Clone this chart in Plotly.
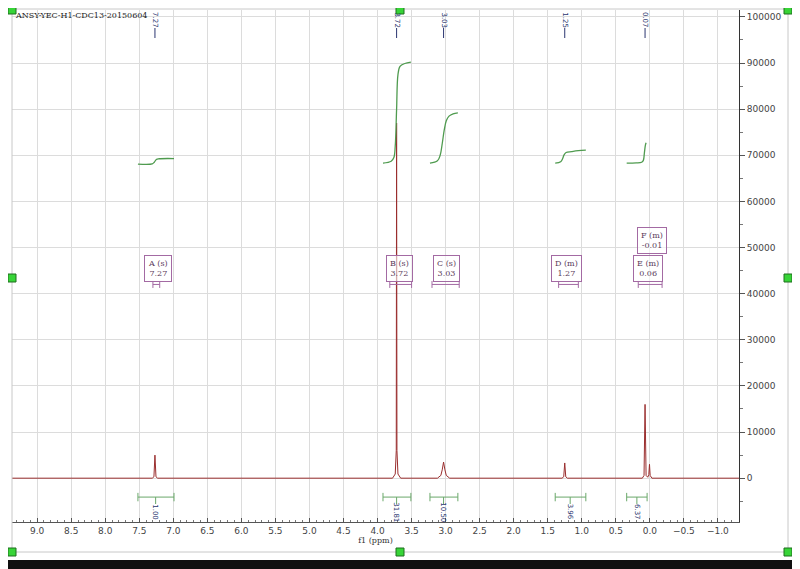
import plotly.graph_objects as go

# spectrum trace (ppm, intensity)
spec_ppm = [9.37, 7.31, 7.285, 7.27, 7.255, 7.23, 3.78, 3.74, 3.725, 3.72, 3.715, 3.70, 3.66,
            3.12, 3.07, 3.05, 3.03, 3.01, 2.99, 2.94, 1.29, 1.265, 1.25, 1.235, 1.21,
            0.11, 0.085, 0.07, 0.055, 0.03, 0.015, 0.005, -0.005, -0.03, -1.31]
spec_int = [0, 0, 300, 5000, 300, 0, 0, 900, 6000, 77000, 6000, 900, 0,
            0, 600, 1800, 3500, 1800, 600, 0, 0, 300, 3300, 300, 0,
            0, 600, 16000, 600, 200, 800, 3000, 600, 0, 0]

# integral curves
int_a_ppm = [7.52, 7.31, 7.28, 7.25, 7.21, 6.99]
int_a_val = [68100, 68150, 68500, 69100, 69250, 69300]
int_b_ppm = [3.92, 3.80, 3.76, 3.74, 3.72, 3.70, 3.67, 3.60, 3.51]
int_b_val = [68300, 68700, 69500, 72000, 80000, 87500, 89300, 89900, 90200]
int_c_ppm = [3.23, 3.12, 3.08, 3.05, 3.02, 2.99, 2.95, 2.89, 2.82]
int_c_val = [68300, 68800, 70000, 72500, 75500, 77500, 78500, 79000, 79200]
int_d_ppm = [1.39, 1.31, 1.28, 1.26, 1.23, 1.15, 1.05, 0.94]
int_d_val = [68300, 68600, 69300, 70100, 70600, 70800, 71000, 71100]
int_e_ppm = [0.34, 0.20, 0.12, 0.095, 0.08, 0.065, 0.055]
int_e_val = [68300, 68350, 68500, 68900, 70500, 72200, 72700]

# integral brackets and values
int_from = [7.52, 3.92, 3.23, 1.39, 0.34]
int_to = [6.99, 3.51, 2.82, 0.94, 0.04]
int_mid = [7.26, 3.72, 3.03, 1.17, 0.19]
int_labels = ["1.00", "31.81", "10.50", "3.96", "6.37"]

# peak picking labels
peak_ppm = [7.27, 3.72, 3.03, 1.25, 0.07]
peak_labels = ["7.27", "3.72", "3.03", "1.25", "0.07"]

# multiplet boxes
mult_names = ["A (s)", "B (s)", "C (s)", "D (m)", "E (m)", "F (m)"]
mult_shift = ["7.27", "3.72", "3.03", "1.27", "0.06", "-0.01"]
mult_box_ppm = [7.22, 3.68, 2.99, 1.23, 0.03, -0.03]
mult_box_y = [45500, 45500, 45500, 45500, 45500, 51600]
mult_from = [7.30, 3.82, 3.20, 1.34, 0.17]
mult_to = [7.20, 3.50, 2.80, 1.05, -0.18]

x_range = [9.37, -1.31]
y_range = [-9500, 101500]

fig = go.Figure()

fig.add_trace(go.Scatter(x=spec_ppm, y=spec_int, mode="lines",
                         line=dict(color="#9a2e2e", width=1), hoverinfo="skip"))

green = "#4f9b4f"
for xs, ys in [(int_a_ppm, int_a_val), (int_b_ppm, int_b_val), (int_c_ppm, int_c_val),
               (int_d_ppm, int_d_val), (int_e_ppm, int_e_val)]:
    fig.add_trace(go.Scatter(x=xs, y=ys, mode="lines", line=dict(color=green, width=1.3,
                             shape="spline"), hoverinfo="skip"))

# integral brackets below baseline
for a, b, m, lab in zip(int_from, int_to, int_mid, int_labels):
    fig.add_trace(go.Scatter(x=[a, b], y=[-4100, -4100], mode="lines+markers",
                             line=dict(color="#6aa86a", width=1),
                             marker=dict(symbol="line-ns-open", size=6, color="#6aa86a",
                                         line=dict(width=1, color="#6aa86a")),
                             hoverinfo="skip"))
    fig.add_trace(go.Scatter(x=[m, m], y=[-4100, -5600], mode="lines",
                             line=dict(color="#6aa86a", width=1), hoverinfo="skip"))
    fig.add_annotation(x=m, y=-7300, xref="x", yref="y", text=lab, textangle=90,
                       yanchor="middle", showarrow=False,
                       font=dict(family="DejaVu Sans", size=7, color="#2b3570"))

# multiplet range brackets under boxes
for a, b in zip(mult_from, mult_to):
    fig.add_trace(go.Scatter(x=[a, b], y=[42000, 42000], mode="lines+markers",
                             line=dict(color="#a36aa3", width=1),
                             marker=dict(symbol="line-ns-open", size=5, color="#a36aa3",
                                         line=dict(width=1, color="#a36aa3")),
                             hoverinfo="skip"))

for n, s, bx, by in zip(mult_names, mult_shift, mult_box_ppm, mult_box_y):
    fig.add_annotation(x=bx, y=by, xref="x", yref="y", text=n + "<br>" + s,
                       showarrow=False, bordercolor="#a36aa3", borderwidth=1, borderpad=3,
                       bgcolor="rgba(255,255,255,0.6)",
                       font=dict(family="DejaVu Serif", size=8, color="#5a3a5a"))


# pixel positions of the reference window -> paper coords of the plot area
def px(x):
    return (x - 12) / 727


def py(y):
    return (522 - y) / 512


# peak labels on top
for p, lab in zip(peak_ppm, peak_labels):
    fig.add_annotation(x=p, y=py(20), xref="x", yref="paper", text=lab,
                       textangle=90, xanchor="center", yanchor="middle", showarrow=False,
                       font=dict(family="DejaVu Sans", size=7, color="#2b3570"))
    fig.add_shape(type="line", x0=p, x1=p, xref="x", yref="paper",
                  y0=py(38), y1=py(28), line=dict(color="#2b3570", width=1))

# window frame and handles
fig.add_shape(type="rect", xref="paper", yref="paper", x0=px(12), x1=px(788),
              y0=py(552), y1=py(9), line=dict(color="#c8c8c8", width=1))
fig.add_shape(type="rect", xref="paper", yref="paper", x0=px(-10), x1=px(810),
              y0=py(575), y1=py(560), line=dict(width=0), fillcolor="#101010")
for hx, hy in [(12, 10), (400, 10), (788, 10), (12, 278), (788, 278),
               (12, 552), (400, 552), (788, 552)]:
    fig.add_shape(type="rect", xref="paper", yref="paper",
                  x0=px(hx - 4), x1=px(hx + 4), y0=py(hy + 4), y1=py(hy - 4),
                  line=dict(color="#1f6e1f", width=1), fillcolor="#37d437")

fig.add_annotation(x=px(13), y=py(15), xref="paper", yref="paper", xanchor="left",
                   yanchor="middle", text="ANSY-YEC-H1-CDC13-20150604", showarrow=False,
                   font=dict(family="DejaVu Serif", size=8, color="#222222"))

# page has an 8px body margin, so the figure is 792x561
fig.update_layout(
    width=792, height=561,
    margin=dict(l=4, r=61, t=2, b=47),
    paper_bgcolor="white", plot_bgcolor="white",
    showlegend=False,
    xaxis=dict(range=x_range, dtick=0.5, tick0=0, tickformat=".1f",
               showgrid=True, gridcolor="#dcdcdc", gridwidth=1, zeroline=False,
               showline=True, linecolor="#555555", ticks="inside", ticklen=4,
               tickcolor="#555555",
               minor=dict(dtick=0.1, ticks="inside", ticklen=2, tickcolor="#777777"),
               tickfont=dict(family="DejaVu Sans", size=9, color="#444444"),
               title=dict(text="f1 (ppm)", standoff=2,
                          font=dict(family="DejaVu Serif", size=8, color="#333333"))),
    yaxis=dict(range=y_range, side="right", dtick=10000, tick0=0, tickformat="d",
               showgrid=True, gridcolor="#dcdcdc", zeroline=False,
               showline=True, linecolor="#333333", ticks="outside", ticklen=5,
               tickcolor="#555555",
               minor=dict(dtick=5000, ticks="outside", ticklen=3, tickcolor="#777777"),
               tickfont=dict(family="DejaVu Sans", size=9, color="#444444")),
)

fig.write_html("out.html")
